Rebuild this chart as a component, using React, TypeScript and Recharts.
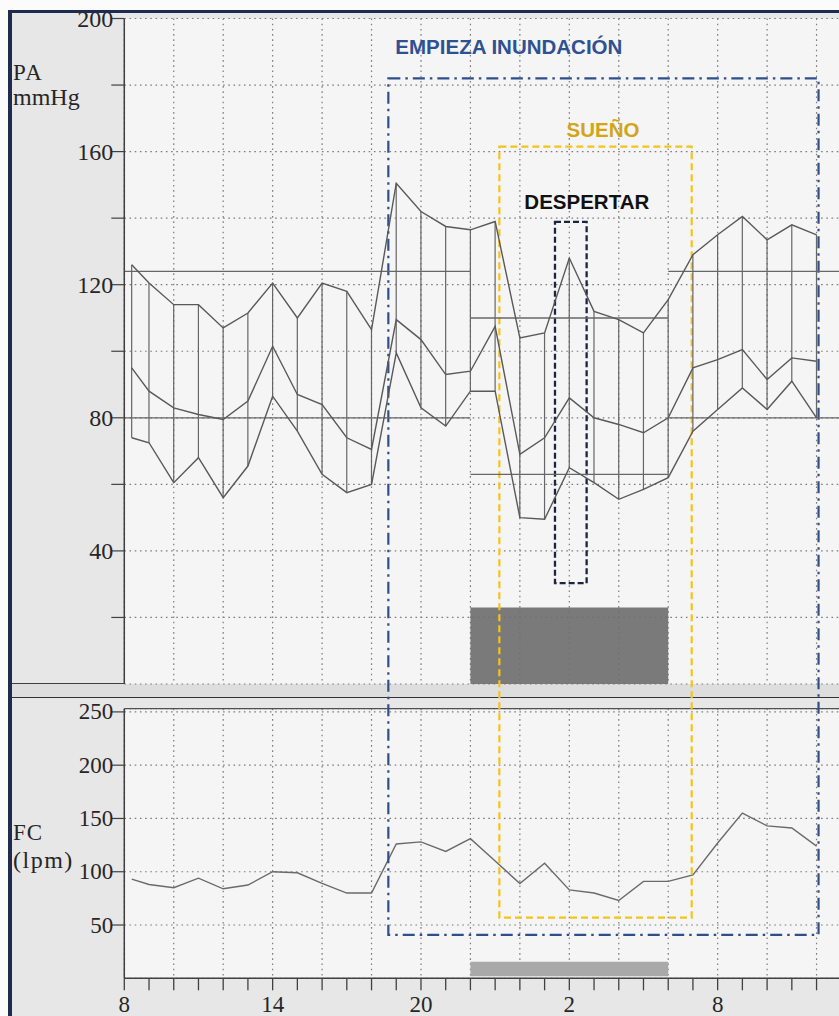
import React from 'react';
import {
  ComposedChart, Line, Bar, XAxis, YAxis, CartesianGrid, ReferenceArea, ReferenceLine,
} from 'recharts';

// measurement times, in hours after 08:00
const hours = [0.3, 1, 2, 3, 4, 5, 6, 7, 8, 9, 10, 11, 12, 13, 14, 15, 16, 17, 18, 19, 20, 21, 22, 23, 24, 25, 26, 27, 28];
const systolic = [126, 120.5, 114, 114, 107, 111.5, 120.5, 110, 120.5, 118, 106.5, 150.5, 142, 137.5, 136.5, 139, 104, 105.5, 128, 112, 109.5, 105.5, 115.5, 129, 135, 140.5, 133.5, 138, 135];
const meanPressure = [95, 88, 83, 81, 79.5, 85, 101.5, 87, 84, 74, 70.5, 109.5, 103.5, 93, 94, 107.5, 69, 74, 86, 80, 78, 75.5, 80, 95, 97.5, 100.5, 91.5, 98, 97];
const diastolic = [74, 72.5, 60.5, 68, 56, 65.5, 86.5, 76, 63, 57.5, 60, 99.5, 83, 77.5, 88, 88, 50, 49.5, 65, 60.5, 55.5, 58.5, 62, 76, 82.5, 89, 82.5, 91, 80];
const heartRate = [93, 88, 85, 94, 84, 87.5, 100, 99, 89, 80, 80, 126, 128, 119, 131, 110, 89, 108, 83, 80, 73, 91, 91, 97, 127, 155, 143, 141, 124];

const hourTicks = [0, 1, 2, 3, 4, 5, 6, 7, 8, 9, 10, 11, 12, 13, 14, 15, 16, 17, 18, 19, 20, 21, 22, 23, 24, 25, 26, 27, 28, 29, 30];
const gridHours = [2, 4, 6, 8, 10, 12, 14, 16, 18, 20, 22, 24, 26, 28, 30];
const labelHours = [0, 6, 12, 18, 24];
const clockLabels = ['8', '14', '20', '2', '8'];
const paTicks = [20, 40, 60, 80, 100, 120, 140, 160, 180, 200];
const paLabelled = [40, 80, 120, 160, 200];
const fcTicks = [50, 100, 150, 200, 250];

// limits: day (sys, dia) and night (sys, dia)
const dayPeriods = [[0, 14], [22, 30]];
const nightPeriod = [14, 22];
const dayLimits = [124, 80];
const nightLimits = [110, 63];
const sleepPeriod = [14, 22];

// annotation boxes, in chart units (hours / mmHg)
const floodBox = { x1: 10.68, x2: 28.08, y1: -75.4, y2: 182 };
const sleepBox = { x1: 15.17, x2: 22.95, y1: -70.2, y2: 161.5 };
const wakeBox = { x1: 17.42, x2: 18.7, y1: 30.3, y2: 138.9 };

const W = 866;
const H = 1016;
const PLOT_LEFT = 124.3;
const PA_TOP = 18.5;
const PA_BOTTOM = 684;
const FC_TOP = 708.7;
const FC_BOTTOM = 978.3;
const FC_MAX = 253;

const SERIF = '"Liberation Serif", "Times New Roman", serif';
const SANS = '"Liberation Sans", Arial, sans-serif';
const INK = '#262626';
const LINE = '#595959';

const bpData = hours.map((h, i) => ({
  h, sys: systolic[i], mean: meanPressure[i], dia: diastolic[i],
}));
const fcData = hours.map((h, i) => ({ h, fc: heartRate[i] }));

function PaTick(props: any) {
  const { x, y, payload } = props;
  if (!paLabelled.includes(payload.value)) return <g />;
  return (
    <text x={x + 4} y={y} dy={8} textAnchor="end" fontFamily={SERIF} fontSize={24} fill={INK}>
      {payload.value}
    </text>
  );
}

function FcTick(props: any) {
  const { x, y, payload } = props;
  return (
    <text x={x + 4} y={y} dy={7.5} textAnchor="end" fontFamily={SERIF} fontSize={23} fill={INK}>
      {payload.value}
    </text>
  );
}

function HourTick(props: any) {
  const { x, y, payload } = props;
  const idx = labelHours.indexOf(payload.value);
  if (idx < 0) return <g />;
  return (
    <text x={x} y={y} dy={20} textAnchor="middle" fontFamily={SERIF} fontSize={23} fill={INK}>
      {clockLabels[idx]}
    </text>
  );
}

const boxLabel = (text: string, color: string, anchor: 'start' | 'middle', dx: number, dy: number) =>
  (props: any) => {
    const vb = props.viewBox;
    const x = anchor === 'start' ? vb.x + dx : vb.x + vb.width / 2 + dx;
    return (
      <text x={x} y={vb.y - dy} textAnchor={anchor} fill={color} fontFamily={SANS}
        fontSize={20.5} fontWeight="bold">
        {text}
      </text>
    );
  };

const gridProps = { stroke: '#7d7d7d', strokeDasharray: '1.6 3.6', strokeWidth: 1.2 };

export default function App() {
  return (
    <div style={{ position: 'fixed', left: 0, top: 0, width: 839, height: 1016, overflow: 'hidden', background: '#fbfbfb' }}>
      {/* paper background */}
      <div style={{ position: 'absolute', left: 10, top: 12, width: 900, height: 1100, background: '#e7e7e7' }} />
      {/* band between the two panels */}
      <div style={{
        position: 'absolute', left: 12, top: 683, width: 900, height: 13,
        background: '#dedede', borderTop: '1.5px solid #3f3f3f', borderBottom: '1.5px solid #333',
      }} />

      <div style={{ position: 'absolute', left: 0, top: 0 }}>
        <ComposedChart width={W} height={H} data={fcData} margin={{ top: FC_TOP, right: 0, bottom: 0, left: 0 }}>
          <CartesianGrid xAxisId="grid" fill="#f5f5f5" {...gridProps} />
          <XAxis xAxisId="time" type="number" dataKey="h" domain={[0, 30]} ticks={hourTicks} interval={0}
            height={H - FC_BOTTOM} tickSize={12} tick={HourTick}
            axisLine={{ stroke: '#404040', strokeWidth: 1.5 }} tickLine={{ stroke: '#404040', strokeWidth: 1.3 }} />
          <XAxis xAxisId="grid" type="number" dataKey="h" domain={[0, 30]} ticks={gridHours} height={0} hide />
          <YAxis type="number" domain={[0, FC_MAX]} ticks={fcTicks} interval={0} width={PLOT_LEFT}
            tickSize={13} tick={FcTick}
            axisLine={{ stroke: '#404040', strokeWidth: 1.5 }} tickLine={{ stroke: '#404040', strokeWidth: 1.2 }} />
          <ReferenceLine xAxisId="time" y={FC_MAX} stroke="#505050" strokeWidth={1.3} />
          <ReferenceArea xAxisId="time" x1={sleepPeriod[0]} x2={sleepPeriod[1]} y1={2} y2={15.5}
            fill="#a9a9a9" fillOpacity={1} />
          <Line xAxisId="time" type="linear" dataKey="fc" stroke="#6a6a6a" strokeWidth={1.4}
            dot={false} isAnimationActive={false} />
        </ComposedChart>
      </div>

      <div style={{ position: 'absolute', left: 0, top: 0 }}>
        <ComposedChart width={W} height={H} data={bpData}
          margin={{ top: PA_TOP, right: 0, bottom: H - PA_BOTTOM, left: 0 }}>
          <CartesianGrid fill="#f5f5f5" {...gridProps} />
          <XAxis type="number" dataKey="h" domain={[0, 30]} ticks={gridHours} hide />
          <YAxis type="number" domain={[0, 200]} ticks={paTicks} interval={0} width={PLOT_LEFT}
            tickSize={13} tick={PaTick}
            axisLine={{ stroke: '#404040', strokeWidth: 1.5 }} tickLine={{ stroke: '#404040', strokeWidth: 1.2 }} />
          <ReferenceArea x1={sleepPeriod[0]} x2={sleepPeriod[1]} y1={0} y2={23}
            fill="#6f6f6f" fillOpacity={0.92} />
          {dayPeriods.map(([a, b]) => dayLimits.map(v => (
            <ReferenceLine key={`d${a}-${v}`} segment={[{ x: a, y: v }, { x: b, y: v }]}
              stroke="#676767" strokeWidth={1.3} />
          )))}
          {nightLimits.map(v => (
            <ReferenceLine key={`n${v}`} segment={[{ x: nightPeriod[0], y: v }, { x: nightPeriod[1], y: v }]}
              stroke="#676767" strokeWidth={1.3} />
          ))}
          <Bar dataKey={(d: any) => [d.dia, d.sys]} barSize={1.2} fill="#666" isAnimationActive={false} />
          <Line type="linear" dataKey="sys" stroke={LINE} strokeWidth={1.4} dot={false} isAnimationActive={false} />
          <Line type="linear" dataKey="mean" stroke={LINE} strokeWidth={1.4} dot={false} isAnimationActive={false} />
          <Line type="linear" dataKey="dia" stroke={LINE} strokeWidth={1.4} dot={false} isAnimationActive={false} />

          <ReferenceArea {...floodBox} ifOverflow="visible" fill="none" stroke="#2f4f8c" strokeWidth={2.2}
            strokeDasharray="12 5 2.5 5" label={boxLabel('EMPIEZA INUNDACIÓN', '#2f5192', 'start', 7, 24)} />
          <ReferenceArea {...sleepBox} ifOverflow="visible" fill="none" stroke="#f3c41a" strokeWidth={2.2}
            strokeDasharray="7 4" label={boxLabel('SUEÑO', '#d2a518', 'middle', 7.5, 10)} />
          <ReferenceArea {...wakeBox} ifOverflow="visible" fill="none" stroke="#1b2440" strokeWidth={2.3}
            strokeDasharray="6 3" label={boxLabel('DESPERTAR', '#111111', 'middle', 16, 12.4)} />
        </ComposedChart>
      </div>

      {/* axis titles */}
      <div style={{ position: 'absolute', left: 13, top: 61, fontFamily: SERIF, fontSize: 23, lineHeight: '24px', color: INK, letterSpacing: 1.5 }}>PA</div>
      <div style={{ position: 'absolute', left: 13, top: 85, fontFamily: SERIF, fontSize: 24, lineHeight: '24px', color: INK }}>mmHg</div>
      <div style={{ position: 'absolute', left: 13, top: 821, fontFamily: SERIF, fontSize: 23, lineHeight: '24px', color: INK, letterSpacing: 1 }}>FC</div>
      <div style={{ position: 'absolute', left: 13, top: 848, fontFamily: SERIF, fontSize: 24, lineHeight: '24px', color: INK, letterSpacing: 1.5 }}>(lpm)</div>

      {/* outer frame */}
      <div style={{
        position: 'absolute', left: 8, top: 10, width: 900, height: 1100,
        borderLeft: '4px solid #1f2b4d', borderTop: '3.5px solid #1f2b4d', pointerEvents: 'none',
      }} />
    </div>
  );
}
